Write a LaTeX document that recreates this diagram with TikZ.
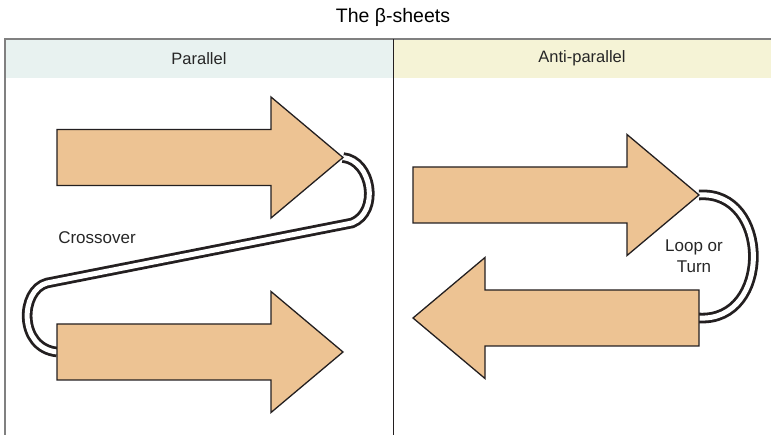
\documentclass[tikz,border=0pt]{standalone}
\usepackage{fontspec}
\setmainfont{Liberation Sans}
\usetikzlibrary{positioning}
\definecolor{sheetfill}{RGB}{237,195,147}
\definecolor{sheetline}{RGB}{35,31,32}
\definecolor{parfill}{RGB}{232,242,240}
\definecolor{antifill}{RGB}{245,243,214}
\definecolor{framegray}{RGB}{128,128,128}

\begin{document}
\begin{tikzpicture}[x=1pt, y=-1pt,
  head/.style={minimum height=39pt, inner sep=0pt, font=\fontsize{16.5}{19}\selectfont, text=black!85},
  sheet/.style={draw=sheetline, fill=sheetfill, line width=1.3pt, line join=miter},
  strand/.style={draw=sheetline, line width=2.8pt, double=white, double distance=5pt},
  lbl/.style={font=\fontsize{17}{21}\selectfont, align=center, text=black!85}
]
  \useasboundingbox (0,0) rectangle (771,435);
  %% Title and column heads
  \node[font=\fontsize{19.5}{23}\selectfont] (title) at (393,17) {The β-sheets};
  \node[head, fill=parfill, minimum width=388pt]  (parhead)  at (199,58.5) {Parallel};
  \node[head, fill=antifill, minimum width=378pt] (antihead) at (582,58.5) {Anti-parallel};
  \draw[framegray, line width=1.5pt] (5,435) -- (5,39) -- (771,39);
  \draw[sheetline, line width=0.8pt] (393,39) -- (393,435);

  %% Strand ends (tail and tip of each sheet)
  \foreach \nm/\x/\y/\d in {parA/57/157.5/1, parB/57/352/1, antA/413/195/1, antB/699/318/-1}{
    \coordinate (\nm-tail) at (\x,\y);
    \coordinate (\nm-tip)  at ({\x+286*\d},\y);
  }
  \coordinate (crossR) at (352,223);
  \coordinate (crossL) at (47,283);

  %% Connecting strands (under the sheets)
  \draw[strand] (parA-tip) .. controls +(29,3) and +(28,-11) .. (crossR)
    -- (crossL) .. controls +(-27,7) and +(-39,-4) .. (parB-tail);
  \draw[strand] (antA-tip) .. controls +(72,-5) and +(73,4) .. (antB-tail);

  %% Sheets
  \foreach \nm/\x/\y/\d in {parA/57/157.5/1, parB/57/352/1, antA/413/195/1, antB/699/318/-1}{
    \draw[sheet] (\x,{\y-28}) -- ({\x+214*\d},{\y-28}) -- ({\x+214*\d},{\y-60.5})
      -- ({\x+286*\d},\y) -- ({\x+214*\d},{\y+60.5}) -- ({\x+214*\d},{\y+28})
      -- (\x,{\y+28}) -- cycle;
  }

  %% Labels
  \node[lbl] (crosslbl) at (97,238) {Crossover};
  \node[lbl] (looplbl)  at (694,256) {Loop or\\Turn};
\end{tikzpicture}
\end{document}
